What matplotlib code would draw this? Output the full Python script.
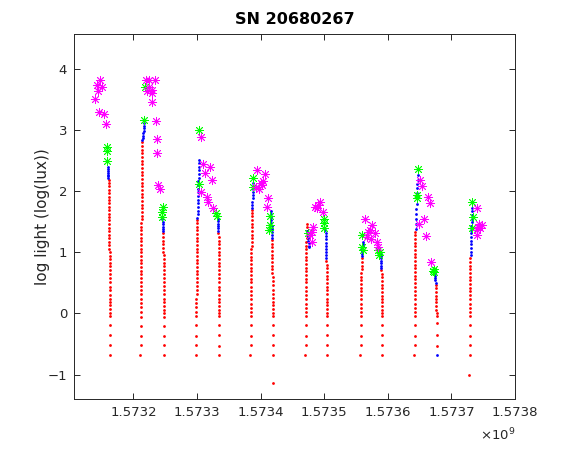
import numpy as np
import matplotlib.pyplot as plt
from matplotlib.ticker import FuncFormatter

# time axis: seconds since epoch; values below are kiloseconds after T0
T0 = 1573100000

# red (dim) samples per dawn / dusk transition, in time order
red_start = [60.9, 111.16, 147.01, 198.74, 233.80, 284.12, 317.92,
             370.60, 403.62, 457.08, 490.09, 541.98, 575.50, 628.46]
red_end = [64.0, 114.00, 148.59, 200.47, 235.06, 286.47, 319.97,
           372.48, 405.19, 458.96, 491.35, 543.55, 577.20, 630.03]
red_y = [
    [2.18, 2.13, 2.08, 2.02, 1.97, 1.91, 1.86, 1.80, 1.74, 1.69, 1.63, 1.57, 1.52, 1.46, 1.40,
     1.35, 1.29, 1.23, 1.17, 1.12, 1.06, 1.00, 0.94, 0.89, 0.83, 0.77, 0.71, 0.64, 0.58, 0.51,
     0.44, 0.38, 0.30, 0.23, 0.19, 0.13, 0.07, 0.00, -0.05, -0.19, -0.36, -0.51, -0.68],
    [-0.68, -0.52, -0.37, -0.20, -0.06, 0.02, 0.10, 0.17, 0.24, 0.31, 0.38, 0.45, 0.52, 0.58,
     0.64, 0.70, 0.76, 0.82, 0.88, 0.94, 1.00, 1.06, 1.12, 1.18, 1.24, 1.30, 1.36, 1.42, 1.48,
     1.54, 1.60, 1.66, 1.72, 1.78, 1.84, 1.90, 1.96, 2.02, 2.08, 2.14, 2.20, 2.26, 2.32, 2.38,
     2.44, 2.50, 2.56, 2.62, 2.68, 2.74, 2.80],
    [1.31, 1.25, 1.19, 1.13, 1.07, 1.01, 0.95, 0.89, 0.83, 0.77, 0.71, 0.65, 0.58, 0.51, 0.45,
     0.38, 0.31, 0.24, 0.19, 0.12, 0.06, 0.00, -0.06, -0.20, -0.37, -0.52, -0.68],
    [-0.68, -0.52, -0.37, -0.19, -0.05, 0.03, 0.10, 0.17, 0.24, 0.31, 0.38, 0.45, 0.52, 0.58,
     0.64, 0.70, 0.76, 0.82, 0.88, 0.94, 1.00, 1.06, 1.12, 1.18, 1.24, 1.30, 1.36, 1.42, 1.48,
     1.52],
    [1.31, 1.25, 1.19, 1.13, 1.07, 1.01, 0.95, 0.89, 0.83, 0.77, 0.71, 0.65, 0.58, 0.51, 0.44,
     0.38, 0.30, 0.23, 0.18, 0.12, 0.06, 0.00, -0.05, -0.19, -0.36, -0.54, -0.68],
    [-0.68, -0.52, -0.37, -0.19, -0.05, 0.02, 0.09, 0.16, 0.23, 0.30, 0.37, 0.44, 0.51, 0.57,
     0.63, 0.69, 0.75, 0.81, 0.87, 0.93, 0.99, 1.05, 1.11, 1.17, 1.23, 1.29, 1.35, 1.41, 1.47,
     1.53, 1.59, 1.65, 1.69],
    [1.20, 1.14, 1.08, 1.02, 0.96, 0.90, 0.84, 0.78, 0.72, 0.66, 0.60, 0.53, 0.46, 0.39, 0.32,
     0.25, 0.19, 0.13, 0.07, 0.00, -0.05, -0.19, -0.36, -0.52, -0.68, -1.14],
    [-0.68, -0.52, -0.37, -0.19, -0.05, 0.02, 0.09, 0.16, 0.23, 0.30, 0.37, 0.44, 0.51, 0.57,
     0.63, 0.69, 0.75, 0.81, 0.87, 0.93, 0.99, 1.05, 1.11, 1.17, 1.23, 1.29, 1.35, 1.41, 1.47],
    [0.86, 0.80, 0.74, 0.68, 0.62, 0.56, 0.50, 0.44, 0.38, 0.31, 0.24, 0.19, 0.13, 0.07, 0.00,
     -0.05, -0.19, -0.36, -0.52, -0.68],
    [-0.68, -0.52, -0.37, -0.19, -0.05, 0.02, 0.09, 0.16, 0.23, 0.30, 0.36, 0.42, 0.48, 0.54,
     0.60, 0.66, 0.72, 0.78, 0.84, 0.90],
    [0.71, 0.65, 0.59, 0.53, 0.47, 0.41, 0.35, 0.29, 0.23, 0.18, 0.12, 0.06, 0.00, -0.05, -0.19,
     -0.36, -0.52, -0.68],
    [-0.68, -0.52, -0.37, -0.19, -0.05, 0.02, 0.09, 0.16, 0.23, 0.30, 0.37, 0.44, 0.50, 0.56,
     0.62, 0.68, 0.74, 0.80, 0.86, 0.92, 0.98, 1.04, 1.10, 1.16, 1.22, 1.28, 1.33],
    [0.47, 0.41, 0.35, 0.29, 0.23, 0.18, 0.12, 0.06, 0.00, -0.05, -0.16, -0.36, -0.54],
    [-1.00, -0.68, -0.52, -0.37, -0.19, -0.05, 0.02, 0.09, 0.16, 0.23, 0.30, 0.36, 0.42, 0.48,
     0.54, 0.60, 0.66, 0.72, 0.78, 0.84, 0.90],
]

# blue (bright) samples
blue_start = [59.75, 114.31, 145.75, 200.79, 232.55, 286.60, 316.35,
              373.43, 402.04, 459.10, 488.83, 543.87, 574.21, 577.40, 630.34]
blue_end = [60.70, 117.14, 146.90, 203.15, 233.65, 288.52, 317.80,
            376.10, 403.30, 461.00, 489.77, 547.01, 575.20, 577.40, 632.38]
blue_y = [
    [2.40, 2.36, 2.33, 2.30, 2.27, 2.24, 2.21],
    [2.83, 2.87, 2.91, 2.95, 2.99, 3.03, 3.07, 3.11],
    [1.54, 1.50, 1.46, 1.42, 1.38, 1.34],
    [1.56, 1.62, 1.68, 1.74, 1.80, 1.86, 1.92, 1.98, 2.04, 2.10, 2.16, 2.22, 2.28, 2.34, 2.40,
     2.46, 2.51],
    [1.55, 1.51, 1.47, 1.43, 1.39, 1.35],
    [1.73, 1.78, 1.83, 1.88, 1.93, 1.98, 2.03, 2.08, 2.13],
    [1.68, 1.63, 1.58, 1.53, 1.48, 1.43, 1.38, 1.33, 1.28, 1.23],
    [1.35, 1.31, 1.27, 1.23, 1.19, 1.15, 1.11, 1.08],
    [1.36, 1.31, 1.26, 1.21, 1.16, 1.11, 1.06, 1.01, 0.96, 0.91],
    [0.94, 0.98, 1.02, 1.06, 1.10, 1.14, 1.17],
    [0.98, 0.94, 0.90, 0.86, 0.82, 0.78, 0.74],
    [1.38, 1.46, 1.55, 1.63, 1.70, 1.79, 1.88, 1.97, 2.05, 2.12, 2.19, 2.26],
    [0.66, 0.62, 0.58, 0.54, 0.50],
    [-0.68],
    [0.95, 1.01, 1.07, 1.13, 1.19, 1.25, 1.31, 1.37, 1.43, 1.49, 1.55, 1.61, 1.67, 1.72],
]

# green stars
green_t = [58.49, 58.96, 59.28, 116.67, 118.24, 146.07, 144.97, 144.97,
           203.62, 203.62, 229.87, 230.98, 288.83, 287.57, 314.78, 314.78, 313.68,
           374.06, 400.16, 400.16, 399.68, 458.96, 461.47, 458.96, 485.06, 486.16, 487.73,
           547.01, 546.38, 546.38, 571.53, 572.63, 572.10, 632.86, 634.43, 632.38]
green_y = [2.72, 2.66, 2.49, 3.16, 3.71, 1.74, 1.66, 1.58,
           3.00, 2.11, 1.65, 1.59, 2.22, 2.06, 1.60, 1.44, 1.37,
           1.32, 1.55, 1.39, 1.48, 1.28, 1.03, 1.09, 1.03, 0.95, 1.00,
           2.36, 1.93, 1.88, 0.70, 0.68, 0.72, 1.83, 1.58, 1.39]

# magenta stars
magenta_t = [47.49, 42.30, 50.16, 44.81, 39.62, 45.91, 54.25, 56.45,
             119.81, 125.00, 133.96, 121.86, 124.53, 128.77, 130.03, 128.77, 135.53, 137.58,
             137.58, 139.15, 141.82,
             205.82, 209.43, 220.44, 213.36, 224.37, 207.07, 215.25, 217.77, 225.63,
             294.33, 306.91, 300.16, 304.24, 292.76, 297.95, 302.20, 312.10, 309.58,
             382.85, 380.34, 377.67, 381.60, 385.53, 393.39, 390.72, 398.58, 388.20,
             464.14, 475.62, 472.01, 479.87, 466.82, 473.58, 482.54, 485.06, 469.34,
             550.62, 553.30, 562.73, 566.34, 557.38, 549.05, 559.58, 567.92,
             639.77, 642.29, 640.24, 644.96, 639.77, 647.63, 643.39]
magenta_y = [3.81, 3.74, 3.71, 3.63, 3.50, 3.30, 3.26, 3.10,
             3.82, 3.82, 3.81, 3.64, 3.70, 3.60, 3.66, 3.45, 3.15, 2.86,
             2.63, 2.10, 2.03,
             2.89, 2.45, 2.40, 2.29, 2.18, 1.98, 1.90, 1.83, 1.72,
             2.34, 2.28, 2.13, 2.17, 2.07, 2.04, 2.10, 1.88, 1.74,
             1.42, 1.17, 1.28, 1.33, 1.74, 1.83, 1.77, 1.66, 1.72,
             1.55, 1.44, 1.36, 1.31, 1.25, 1.22, 1.17, 1.09, 1.33,
             2.18, 2.09, 1.91, 1.80, 1.55, 1.47, 1.27, 0.84,
             1.72, 1.42, 1.36, 1.39, 1.28, 1.44, 1.47]


def to_sec(ks):
    return T0 + np.asarray(ks, dtype=float) * 1000.0


fig = plt.figure(figsize=(5.7, 4.5), dpi=100)
ax = fig.add_axes([0.1298, 0.1133, 0.7737, 0.8111])

for t0, t1, ys in zip(red_start, red_end, red_y):
    ax.plot(to_sec(np.linspace(t0, t1, len(ys))), ys, 'o', color='red', ms=2.0, mew=0)
for t0, t1, ys in zip(blue_start, blue_end, blue_y):
    ax.plot(to_sec(np.linspace(t0, t1, len(ys))), ys, 'o', color='blue', ms=2.0, mew=0)

star = (8, 2, 0)
ax.plot(to_sec(green_t), green_y, ls='none', marker=star, color='#00ff00', ms=6.5, mew=0.6)
ax.plot(to_sec(magenta_t), magenta_y, ls='none', marker=star, color='magenta', ms=6.5, mew=0.6)

ax.set_xlim(1.5731066e9, 1.5738e9)
ax.set_ylim(-1.40, 4.57)
ax.set_xticks(np.arange(1.5732e9, 1.57381e9, 1e5))
ax.set_yticks([-1, 0, 1, 2, 3, 4])
ax.xaxis.set_major_formatter(FuncFormatter(lambda v, p: '%.4f' % (v / 1e9)))

dark = '#262626'
for s in ax.spines.values():
    s.set_color(dark)
    s.set_linewidth(0.7)
ax.tick_params(direction='in', top=True, right=True, length=4.5, width=0.7,
               colors=dark, labelsize=9.5, pad=5)

ax.set_title('SN 20680267', fontsize=11.5, fontweight='bold', pad=7, color='black')
ax.set_ylabel('log light (log(lux))', fontsize=11, color=dark)
ax.yaxis.set_label_coords(-0.055, 0.5)
ax.text(1.0, -0.075, r'$\times10^{9}$', transform=ax.transAxes, ha='right', va='top',
        fontsize=9.5, color=dark)

fig.savefig('out.png', dpi=100)
